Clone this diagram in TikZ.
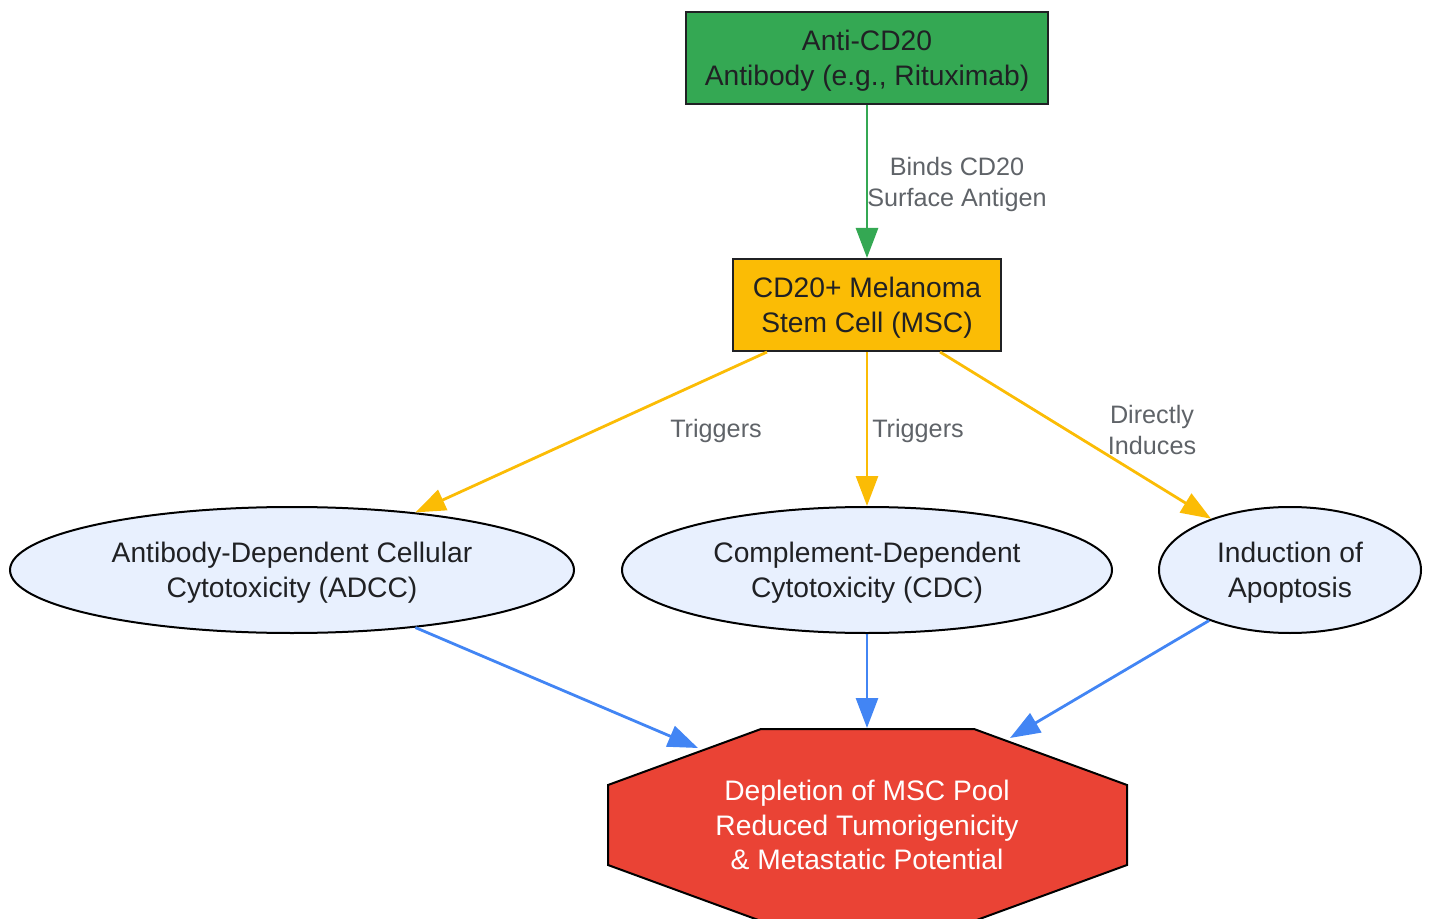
\documentclass[tikz,border=0pt]{standalone}
\usepackage{fontspec}
\setmainfont{Liberation Sans}
\usetikzlibrary{arrows.meta,calc,shapes.geometric}
\definecolor{ggreen}{HTML}{34A853}
\definecolor{gyellow}{HTML}{FBBC05}
\definecolor{gblue}{HTML}{4285F4}
\definecolor{gred}{HTML}{EA4335}
\definecolor{lblue}{HTML}{E8F0FE}
\definecolor{txt}{HTML}{202124}
\definecolor{lbl}{HTML}{5F6368}
\tikzset{
  nodefont/.style={font=\fontsize{14.1pt}{17.3pt}\selectfont, text height=30pt},
  box/.style={draw=txt, line width=1pt, rectangle, inner sep=0pt, align=center, text=txt, nodefont},
  oval/.style={draw=black, line width=1pt, ellipse, fill=lblue, inner sep=0pt, align=center, text=txt, nodefont},
  octo/.style={draw=black, line width=1pt, fill=gred},
  octotext/.style={align=center, text=white, inner sep=0pt, font=\fontsize{14.1pt}{17.3pt}\selectfont},
  elabel/.style={align=center, text=lbl, inner sep=0pt, font=\fontsize{12.6pt}{15.5pt}\selectfont},
  conn/.style={line width=1.4pt, -{Triangle[length=15pt,width=11pt]}},
}
\begin{document}
\begin{tikzpicture}[x=0.5pt,y=-0.5pt]
\useasboundingbox (0,0) rectangle (1429,919);
\node[box, fill=ggreen, minimum width=181pt, minimum height=46pt] (anti) at (867,58) {Anti-CD20\\Antibody (e.g., Rituximab)};
\node[box, fill=gyellow, minimum width=134pt, minimum height=46pt] (msc) at (867,305) {CD20+ Melanoma\\Stem Cell (MSC)};
\node[oval, minimum width=282pt, minimum height=63pt] (adcc) at (292,570) {Antibody-Dependent Cellular\\Cytotoxicity (ADCC)};
\node[oval, minimum width=245pt, minimum height=63pt] (cdc) at (867,570) {Complement-Dependent\\Cytotoxicity (CDC)};
\node[oval, minimum width=131pt, minimum height=63pt] (apo) at (1290,570) {Induction of\\Apoptosis};
\coordinate (out) at (867,825);
\draw[octo] ($(out)+(-106,-96)$) -- ($(out)+(107,-96)$) -- ($(out)+(260,-40)$) -- ($(out)+(260,40)$)
  -- ($(out)+(107,96)$) -- ($(out)+(-106,96)$) -- ($(out)+(-259,40)$) -- ($(out)+(-259,-40)$) -- cycle;
\node[octotext] (outtext) at (out) {Depletion of MSC Pool\\Reduced Tumorigenicity\\\& Metastatic Potential};
\coordinate (outL) at ($(out)+(-169,-77)$);
\coordinate (outT) at ($(out)+(0,-97)$);
\coordinate (outR) at ($(out)+(143,-87)$);
\draw[conn, ggreen] (anti.south) -- (msc.north);
\node[elabel] (l1) at (957,184) {Binds CD20\\Surface Antigen};
\draw[conn, gyellow] ($(msc.south)+(-100,0)$) -- (adcc.25.5);
\draw[conn, gyellow] (msc.south) -- (cdc.north);
\draw[conn, gyellow] ($(msc.south)+(73,0)$) -- (apo.147.6);
\node[elabel] (l2) at (716,431) {Triggers};
\node[elabel] (l3) at (918,431) {Triggers};
\node[elabel] (l4) at (1152,430) {Directly\\Induces};
\draw[conn, gblue] (adcc.335.6) -- (outL);
\draw[conn, gblue] (cdc.south) -- (outT);
\draw[conn, gblue] (apo.212.4) -- (outR);
\end{tikzpicture}
\end{document}
